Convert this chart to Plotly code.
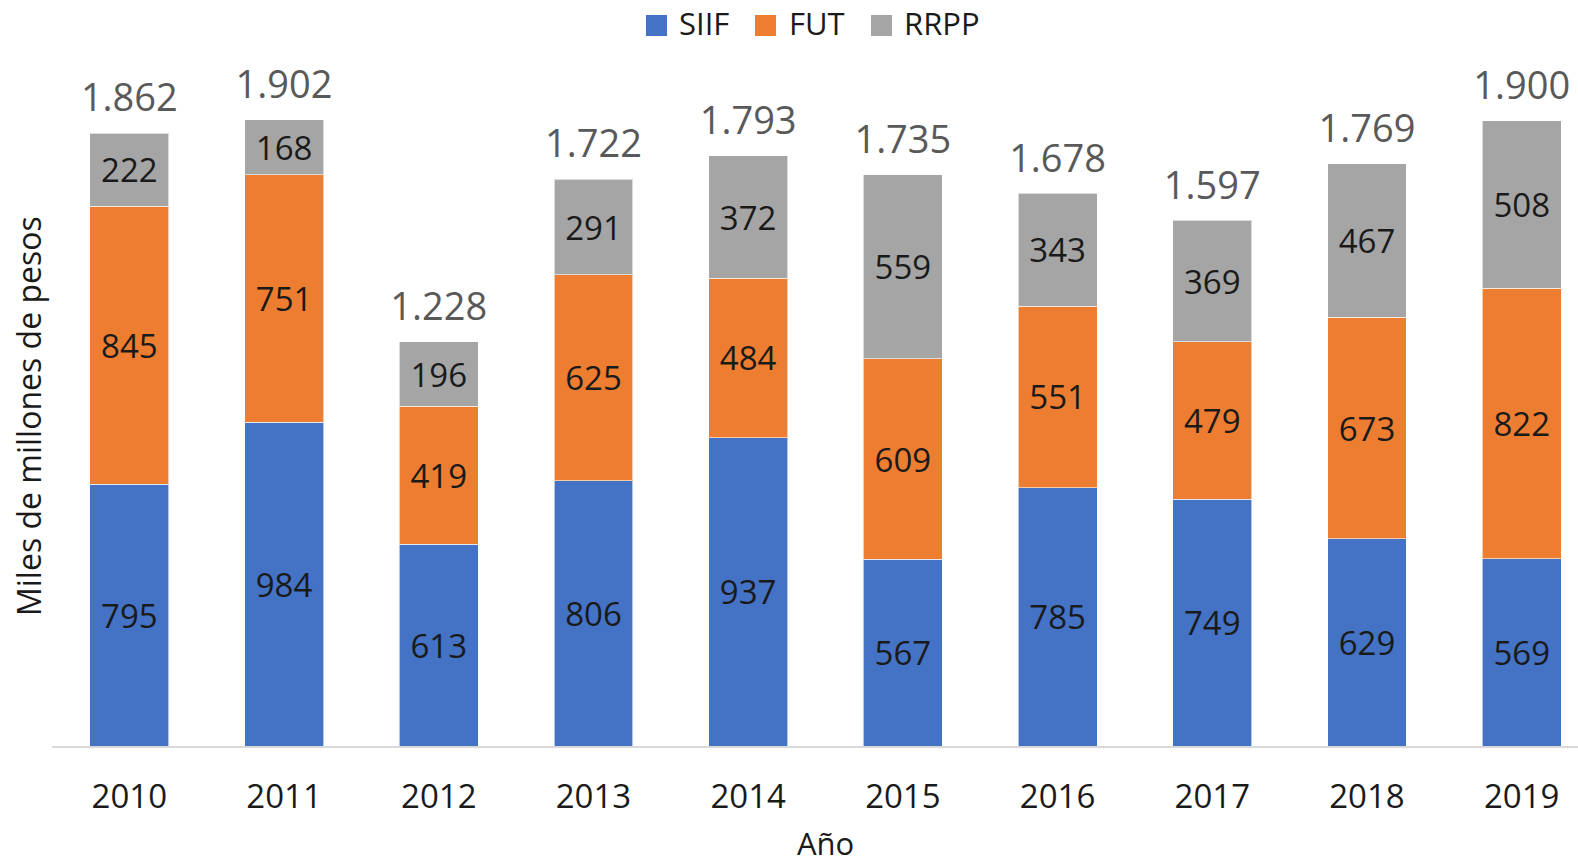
import plotly.graph_objects as go

years = ["2010", "2011", "2012", "2013", "2014", "2015", "2016", "2017", "2018", "2019"]
siif = [795, 984, 613, 806, 937, 567, 785, 749, 629, 569]
fut = [845, 751, 419, 625, 484, 609, 551, 479, 673, 822]
rrpp = [222, 168, 196, 291, 372, 559, 343, 369, 467, 508]
totals = [1862, 1902, 1228, 1722, 1793, 1735, 1678, 1597, 1769, 1900]

FONT = "Open Sans"
TXT = "#1a1a1a"
series = [("SIIF", siif, "#4472C4"), ("FUT", fut, "#ED7D31"), ("RRPP", rrpp, "#A5A5A5")]

W, H = 1578, 862
L, R, T, B = 52, 0, 60, 116
PW, PH = W - L - R, H - T - B


def px_x(x):
    return (x - L) / PW


def px_y(y):
    return (H - B - y) / PH


fig = go.Figure()
for name, vals, col in series:
    fig.add_trace(go.Bar(
        x=years, y=vals, name=name, showlegend=False,
        marker=dict(color=col, line=dict(color="rgba(255,255,255,0.6)", width=1)),
        width=0.51,
        text=vals, texttemplate="%{y}", textposition="inside",
        insidetextanchor="middle",
        textfont=dict(family=FONT, size=33, color=TXT),
        constraintext="none",
        hoverinfo="skip",
    ))

fig.add_trace(go.Scatter(
    x=years, y=totals, mode="markers+text", text=totals,
    texttemplate="%{y:,}", textposition="top center",
    marker=dict(size=18, opacity=0, color="white"),
    textfont=dict(family=FONT, size=38, color="#595959"),
    showlegend=False, hoverinfo="skip", cliponaxis=False,
))

annotations = []
annotations.append(dict(text="Miles de millones de pesos", xref="paper", yref="paper",
                        x=px_x(28), y=px_y(416), textangle=-90, showarrow=False,
                        xanchor="center", yanchor="middle",
                        font=dict(family=FONT, size=32, color=TXT)))
annotations.append(dict(text="Año", xref="paper", yref="paper",
                        x=px_x(825), y=px_y(843), showarrow=False,
                        xanchor="center", yanchor="middle",
                        font=dict(family=FONT, size=31, color=TXT)))

# manual legend (large square swatches like the reference)
shapes = []
legend_items = [(646, 677), (755, 787), (871, 902)]
for (sx, tx), (name, _, col) in zip(legend_items, series):
    shapes.append(dict(type="rect", xref="paper", yref="paper",
                       x0=px_x(sx), x1=px_x(sx + 21), y0=px_y(36), y1=px_y(15),
                       fillcolor=col, line=dict(width=0)))
    annotations.append(dict(text=name, xref="paper", yref="paper",
                            x=px_x(tx), y=px_y(23), showarrow=False,
                            xanchor="left", yanchor="middle",
                            font=dict(family=FONT, size=31, color=TXT)))

fig.update_layout(
    barmode="stack",
    separators=",.",
    width=W, height=H,
    margin=dict(l=L, r=R, t=T, b=B, autoexpand=False),
    paper_bgcolor="white", plot_bgcolor="white",
    font=dict(family=FONT, color=TXT),
    showlegend=False,
    xaxis=dict(type="category", range=[-0.5, 9.364], showgrid=False,
               showline=True, linecolor="#D9D9D9", linewidth=2,
               ticks="", tickfont=dict(family=FONT, size=33, color=TXT),
               ticklabelstandoff=20),
    yaxis=dict(range=[0, 2084], showgrid=False, showticklabels=False,
               zeroline=False, showline=False),
    annotations=annotations,
    shapes=shapes,
)

fig.write_html("out.html", config={"displayModeBar": False},
               post_script="document.body.style.margin='0';document.body.style.overflow='hidden';")
